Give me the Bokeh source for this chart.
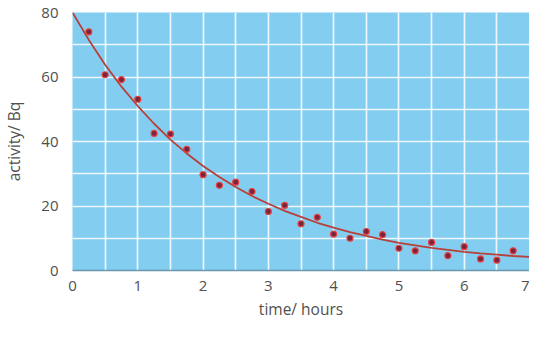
from bokeh.plotting import figure
from bokeh.embed import file_html
from bokeh.resources import INLINE
from bokeh.models import FixedTicker, Range1d

# ---- data ----
time_h = [0.25, 0.5, 0.75, 1.0, 1.25, 1.5, 1.75, 2.0, 2.25, 2.5, 2.75, 3.0, 3.25, 3.5,
          3.75, 4.0, 4.25, 4.5, 4.75, 5.0, 5.25, 5.5, 5.75, 6.0, 6.25, 6.5, 6.75]
activity = [74.0, 60.7, 59.2, 53.1, 42.5, 42.3, 37.6, 29.7, 26.4, 27.4, 24.5, 18.3, 20.2, 14.5,
            16.5, 11.3, 10.0, 12.1, 11.1, 6.9, 6.1, 8.7, 4.6, 7.4, 3.6, 3.2, 6.1]

# best-fit curve
curve_t = [0.0, 0.25, 0.5, 0.75, 1.0, 1.25, 1.5, 1.75, 2.0, 2.25, 2.5, 2.75, 3.0, 3.25, 3.5,
           3.75, 4.0, 4.25, 4.5, 4.75, 5.0, 5.25, 5.5, 5.75, 6.0, 6.25, 6.5, 6.75, 7.0]
curve_a = [80.0, 71.5, 63.8, 57.0, 51.0, 45.5, 40.6, 36.3, 32.4, 29.0, 25.9, 23.1, 20.7, 18.5, 16.6,
           14.8, 13.3, 11.9, 10.7, 9.6, 8.6, 7.8, 7.0, 6.4, 5.8, 5.3, 4.9, 4.5, 4.2]

x_ticks = [0, 1, 2, 3, 4, 5, 6, 7]
y_ticks = [0, 20, 40, 60, 80]
x_grid = [0.5 * i for i in range(15)]
y_grid = [10 * i for i in range(9)]

FONT = "Open Sans"

p = figure(width=529, height=322, output_backend="svg", toolbar_location=None,
           x_range=Range1d(0, 7), y_range=Range1d(0, 80),
           min_border_left=63, min_border_right=0, min_border_top=12, min_border_bottom=42)

p.background_fill_color = "#82cdf0"
p.border_fill_color = "white"
p.outline_line_color = None

p.xgrid.ticker = FixedTicker(ticks=x_grid)
p.ygrid.ticker = FixedTicker(ticks=y_grid)
for g in (p.xgrid, p.ygrid):
    g.grid_line_color = "white"
    g.grid_line_width = 1.7
    g.grid_line_alpha = 0.85

p.xaxis.ticker = FixedTicker(ticks=x_ticks)
p.yaxis.ticker = FixedTicker(ticks=y_ticks)
p.xaxis.axis_label = "time/ hours"
p.yaxis.axis_label = "activity/ Bq"

for ax in (p.xaxis, p.yaxis):
    ax.major_tick_line_color = None
    ax.minor_tick_line_color = None
    ax.major_label_text_font = FONT
    ax.major_label_text_font_size = "15px"
    ax.major_label_text_color = "#505050"
    ax.axis_label_text_font = FONT
    ax.axis_label_text_font_size = "15.5px"
    ax.axis_label_text_font_style = "normal"
    ax.axis_label_text_color = "#505050"

p.xaxis.axis_line_color = "#6a98ad"
p.xaxis.axis_line_width = 1.5
p.xaxis.major_label_standoff = 4
p.xaxis.axis_label_standoff = 4
p.yaxis.axis_line_color = None
p.yaxis.major_label_standoff = 8
p.yaxis.axis_label_standoff = 13

p.line(curve_t, curve_a, line_color="#b8403a", line_width=1.8)
p.scatter(time_h, activity, size=6, fill_color="#7a2540", line_color="#e8403c", line_width=1.2)

open("out.html", "w").write(file_html(p, INLINE))
